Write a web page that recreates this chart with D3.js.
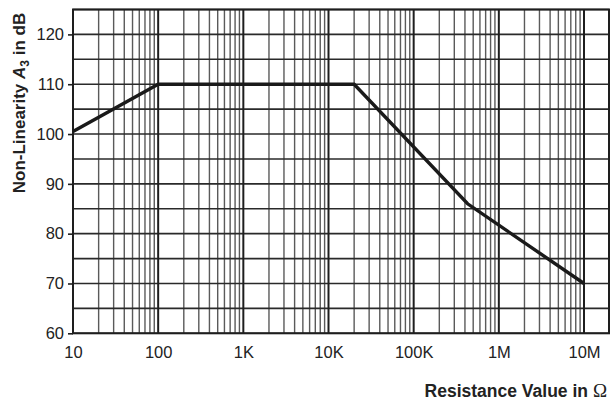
<!DOCTYPE html>
<html>
<head>
<meta charset="utf-8">
<script src="https://cdn.jsdelivr.net/npm/d3@7"></script>
<style>
  body { margin: 0; background: #fff; }
  svg text { font-family: "Liberation Sans", Arial, sans-serif; fill: #222; }
</style>
</head>
<body>
<div class="board"></div>
<script>
var width = 610, height = 403

PLOT_LEFT = 73
PLOT_RIGHT = 609
PLOT_TOP = 9.5
PLOT_BOTTOM = 333.3
DECADE_END_X = 584

// resistance (ohm) vs non-linearity (dB)
var resistance = [10, 100, 20000, 430000, 1e7]
var nonLinearity = [100.5, 110, 110, 86, 70]

var xTickValues = [10, 100, 1e3, 1e4, 1e5, 1e6, 1e7]
var xTickLabels = ["10", "100", "1K", "10K", "100K", "1M", "10M"]
var yTickValues = [60, 70, 80, 90, 100, 110, 120]
var yGridStep = 5

var svg = d3.select(".board")
    .append("svg")
    .attr("width", width)
    .attr("height", height)

let x = d3.scaleLog()
    .domain([10, 1e7])
    .range([PLOT_LEFT, DECADE_END_X])

let y = d3.scaleLinear()
    .domain([60, 125])
    .range([PLOT_BOTTOM, PLOT_TOP])

// minor vertical grid: 2..9 in each decade
let minorX = []
for (let d = 10; d < 1e7; d *= 10) {
    for (let m = 2; m <= 9; m++) minorX.push(d * m)
}

svg.selectAll(".minorX")
    .data(minorX)
    .enter()
    .append("line")
    .attr("stroke", "#5a5a5a")
    .attr("stroke-width", 1.4)
    .attr("x1", d => x(d))
    .attr("x2", d => x(d))
    .attr("y1", PLOT_TOP)
    .attr("y2", PLOT_BOTTOM)

svg.selectAll(".hGrid")
    .data(d3.range(60, 125.1, yGridStep))
    .enter()
    .append("line")
    .attr("stroke", "#2a2a2a")
    .attr("stroke-width", 1.6)
    .attr("x1", PLOT_LEFT)
    .attr("x2", PLOT_RIGHT)
    .attr("y1", d => y(d))
    .attr("y2", d => y(d))

svg.selectAll(".majorX")
    .data(xTickValues)
    .enter()
    .append("line")
    .attr("stroke", "#1e1e1e")
    .attr("stroke-width", 2)
    .attr("x1", d => x(d))
    .attr("x2", d => x(d))
    .attr("y1", PLOT_TOP)
    .attr("y2", PLOT_BOTTOM)

// frame
svg.append("rect")
    .attr("x", PLOT_LEFT)
    .attr("y", PLOT_TOP)
    .attr("width", PLOT_RIGHT - PLOT_LEFT)
    .attr("height", PLOT_BOTTOM - PLOT_TOP)
    .attr("fill", "none")
    .attr("stroke", "#1e1e1e")
    .attr("stroke-width", 2)

// y ticks + labels
let yAxis = svg.append("g")
    .attr("transform", `translate(${PLOT_LEFT},0)`)
    .call(d3.axisLeft(y).tickValues(yTickValues).tickSize(5).tickPadding(4))
yAxis.select(".domain").remove()
yAxis.selectAll("line").attr("stroke", "#1e1e1e").attr("stroke-width", 1.6)
yAxis.selectAll("text")
    .attr("font-size", 16.5)
    .attr("font-family", null)
    .attr("fill", "#222")

// x labels
let xAxis = svg.append("g")
    .attr("transform", `translate(0,${PLOT_BOTTOM})`)
    .call(d3.axisBottom(x).tickValues(xTickValues)
        .tickFormat((d, i) => xTickLabels[i]).tickSize(0).tickPadding(13))
xAxis.select(".domain").remove()
xAxis.selectAll("text")
    .attr("font-size", 16.5)
    .attr("font-family", null)
    .attr("fill", "#222")

// curve
let line = d3.line()
    .x(d => x(d[0]))
    .y(d => y(d[1]))

svg.append("path")
    .datum(d3.zip(resistance, nonLinearity))
    .attr("fill", "none")
    .attr("stroke", "#1a1a1a")
    .attr("stroke-width", 3.4)
    .attr("stroke-linejoin", "miter")
    .attr("d", line)

// axis titles
let yTitle = svg.append("text")
    .attr("transform", "translate(24.5,103) rotate(-90)")
    .attr("text-anchor", "middle")
    .attr("font-size", 17)
    .attr("font-weight", "bold")
yTitle.append("tspan").text("Non-Linearity ")
yTitle.append("tspan").attr("font-style", "italic").text("A")
yTitle.append("tspan").attr("font-size", 12).attr("dy", 4).text("3")
yTitle.append("tspan").attr("dy", -4).text(" in dB")

let xTitle = svg.append("text")
    .attr("x", 607)
    .attr("y", 397)
    .attr("text-anchor", "end")
    .attr("font-size", 17.5)
    .attr("font-weight", "bold")
xTitle.append("tspan").text("Resistance Value in ")
xTitle.append("tspan")
    .attr("font-weight", "normal")
    .attr("font-family", "'Liberation Serif', serif")
    .attr("font-size", 19)
    .text("Ω")
</script>
</body>
</html>
